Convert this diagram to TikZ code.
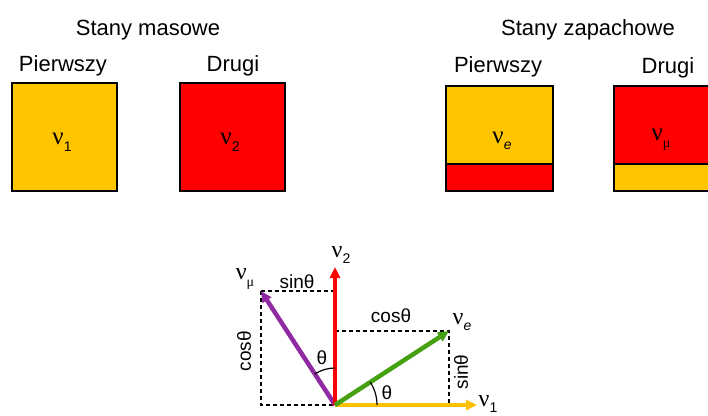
\documentclass[tikz,border=0pt]{standalone}
\usepackage{fontspec}
\setmainfont{Liberation Sans}
\newfontfamily\greekf{Liberation Serif}
\usetikzlibrary{arrows.meta,calc}
\definecolor{gold}{HTML}{FFC600}
\definecolor{pred}{HTML}{FF0000}
\definecolor{ppurple}{HTML}{902AA2}
\definecolor{pgreen}{HTML}{45A012}
\definecolor{axgold}{HTML}{FFC000}
\newcommand\nusub[1]{{\greekf ν}\raisebox{-0.5ex}{\fontsize{14}{14}\selectfont #1}}
\begin{document}
\begin{tikzpicture}[x=1pt,y=-1pt,
  head/.style={font=\fontsize{22}{26}\selectfont, anchor=base, inner sep=0},
  box/.style={draw=black, line width=1.4pt, inner sep=0},
  boxlab/.style={inner sep=0, font=\fontsize{25}{28}\selectfont},
  lab/.style={inner sep=0, font=\fontsize{19}{22}\selectfont},
  nulab/.style={inner sep=0, font=\fontsize{24}{27}\selectfont},
  vec/.style={line width=4.5pt, -{Triangle[length=11pt,width=10pt]}},
  proj/.style={line width=1.3pt, dash pattern=on 4pt off 3pt},
  ang/.style={line width=1.2pt}]
\useasboundingbox (0,0) rectangle (708,415);
\clip (0,0) rectangle (708,415);
% headings
\node[head] (hm) at (148,35) {Stany masowe};
\node[head] (hz) at (588,35) {Stany zapachowe};
\node[head] (p1) at (63,71) {Pierwszy};
\node[head] (d1) at (233,71) {Drugi};
\node[head] (p2) at (498,72) {Pierwszy};
\node[head] (d2) at (668,73) {Drugi};
% mass boxes
\node[box, fill=gold, minimum width=105pt, minimum height=108pt] (b1) at (64.5,137) {};
\node[box, fill=pred, minimum width=105pt, minimum height=108pt] (b2) at (232.5,137) {};
\node[boxlab] (l1) at (62,142) {\nusub{1}};
\node[boxlab] (l2) at (230,142) {\nusub{2}};
% flavour boxes
\fill[gold] (446,86) rectangle (553,164);
\fill[pred] (446,164) rectangle (553,191);
\fill[pred] (614,86) rectangle (721,164);
\fill[gold] (614,164) rectangle (721,191);
\node[box, minimum width=107pt, minimum height=105pt] (b3) at (499.5,138.5) {};
\node[box, minimum width=107pt, minimum height=105pt] (b4) at (667.5,138.5) {};
\draw[line width=1.4pt] (446,164) -- (553,164);
\draw[line width=1.4pt] (614,164) -- (721,164);
\node[boxlab] (l3) at (502,141) {{\greekf ν}\raisebox{-0.5ex}{\fontsize{14}{14}\selectfont\itshape e}};
\node[boxlab] (l4) at (661,140) {{\greekf ν}\raisebox{-0.5ex}{\fontsize{14}{14}\selectfont\greekf μ}};
% vector diagram
\coordinate (O) at (335,405);
\coordinate (X) at (477,405);
\coordinate (Y) at (335,267);
\coordinate (E) at (449,331);
\coordinate (M) at (261,291);
\coordinate (Ex) at (335,331);
\coordinate (Ey) at (449,405);
\coordinate (Mx) at (335,291);
\coordinate (My) at (261,405);
\draw[proj] (M) -- (Mx);
\draw[proj] (M) -- (My) -- (O);
\draw[proj] (Ex) -- (E) -- (Ey);
\draw[vec, axgold] (O) -- (X);
\draw[vec, ppurple] (O) -- (M);
\draw[vec, pred] (O) -- (Y);
\draw[vec, pgreen] (O) -- (E);
\draw[ang] ($(O)+(0,-37)$) arc[start angle=-90, end angle=-123, radius=37];
\draw[ang] ($(O)+(42,0)$) arc[start angle=0, end angle=-33, radius=42];
% labels
\node[nulab] (n2) at (341,255) {\nusub{2}};
\node[nulab] (n1) at (488,404) {\nusub{1}};
\node[nulab] (nm) at (245,279) {{\greekf ν}\raisebox{-0.5ex}{\fontsize{14}{14}\selectfont\greekf μ}};
\node[nulab] (ne) at (462,322) {{\greekf ν}\raisebox{-0.5ex}{\fontsize{14}{14}\selectfont\itshape e}};
\node[lab] (s1) at (297,282) {sinθ};
\node[lab] (c1) at (391,316) {cosθ};
\node[lab, rotate=90] (c2) at (244,351) {cosθ};
\node[lab, rotate=90] (s2) at (461,372) {sinθ};
\node[lab] (t1) at (322,358) {θ};
\node[lab] (t2) at (387,393) {θ};
\end{tikzpicture}
\end{document}
